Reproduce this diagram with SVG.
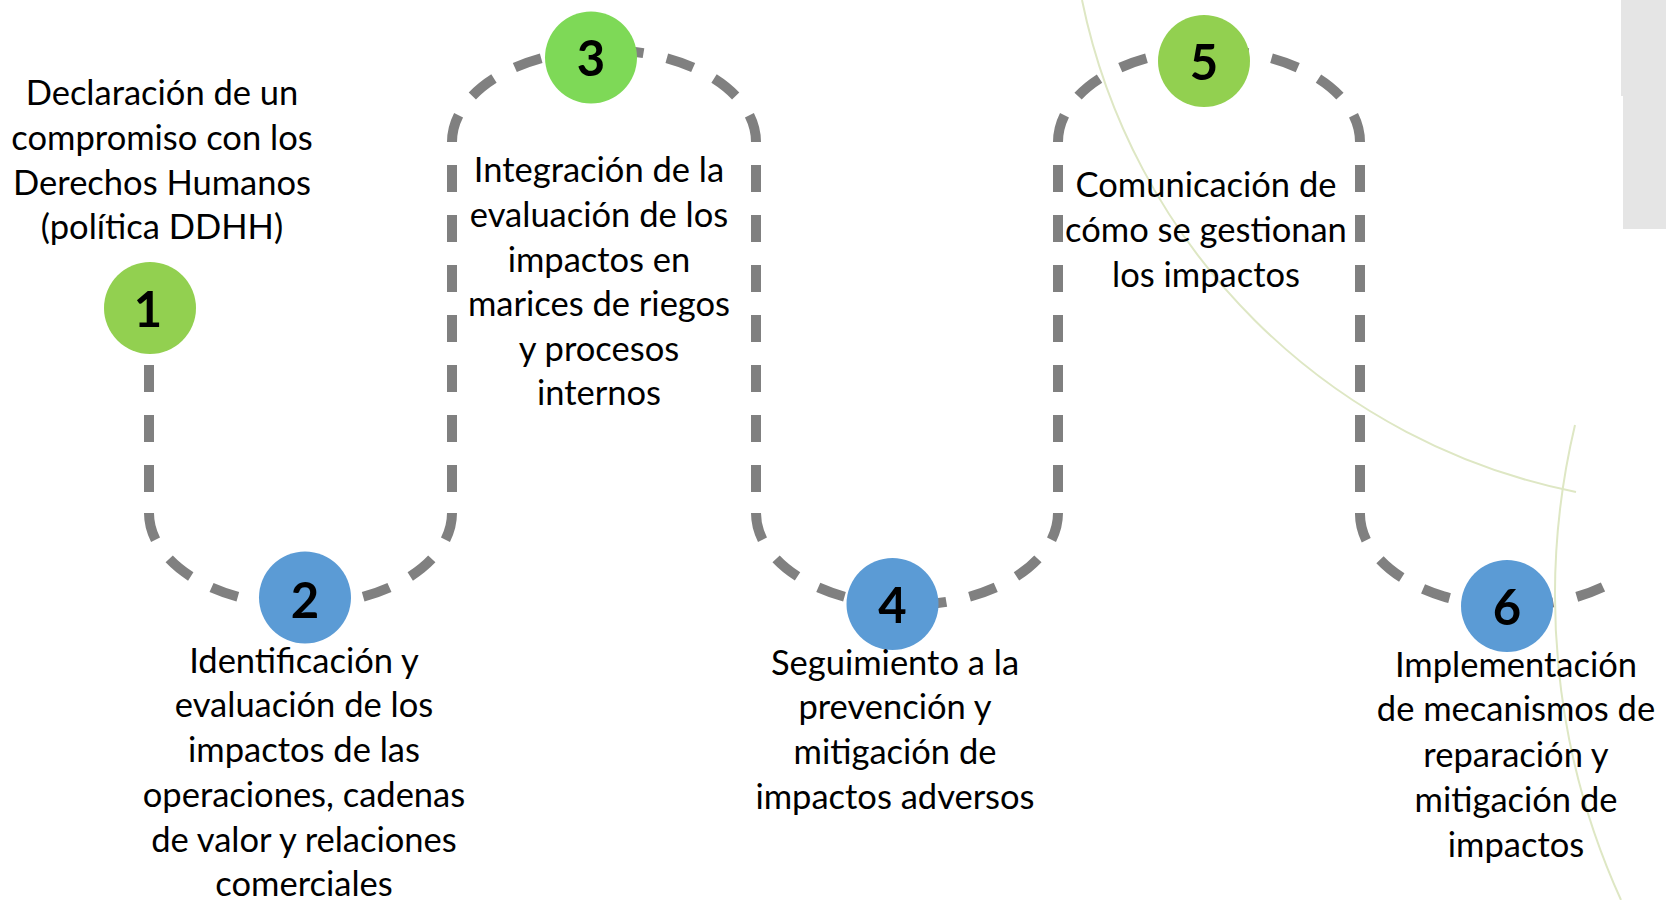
<svg xmlns="http://www.w3.org/2000/svg" width="1666" height="900" viewBox="0 0 1666 900">
<style>
.lbl{font-family:Lato,"Liberation Sans",sans-serif;font-size:34.5px;fill:#000;text-anchor:middle}
.num{font-family:Lato,"Liberation Sans",sans-serif;font-size:49px;font-weight:700;fill:#000;text-anchor:middle}
.dash{fill:none;stroke:#808080;stroke-width:10;stroke-dasharray:27 23}
.vert{stroke-dashoffset:27}
.deco{fill:none;stroke:#DEE7C4;stroke-width:2}
.g1{fill:#92D050}
.g3{fill:#7ED957}
.b{fill:#5B9BD5}
</style>
<rect x="0" y="0" width="1666" height="900" fill="#fff"/>
<g id="background">
<path class="deco" d="M1082 0 A631 631 0 0 0 1576 492"/>
<path class="deco" d="M1575 425 A736 736 0 0 0 1621 900"/>
<path d="M1621 0 H1666 V229 H1623 V96 H1621 Z" fill="#E5E5E5"/>
</g>
<g id="connectors">
<path class="dash" d="M149 365 L149 513"/>
<path class="dash" d="M149 513 A151.5 92 0 0 0 452 513" pathLength="377"/>
<path class="dash vert" d="M452 142 L452 513"/>
<path class="dash" d="M452 142 A152 92 0 0 1 756 142" pathLength="377"/>
<path class="dash vert" d="M756 142 L756 513"/>
<path class="dash" d="M756 513 A151 92 0 0 0 1058 513" pathLength="377"/>
<path class="dash vert" d="M1058 142 L1058 513"/>
<path class="dash" d="M1058 142 A151 92 0 0 1 1360 142" pathLength="377"/>
<path class="dash vert" d="M1360 142 L1360 513"/>
<path class="dash" d="M1360 513 A151 92 0 0 0 1603 587" pathLength="277"/>
</g>
<g id="node1">
<circle class="g1" cx="150" cy="308" r="46"/>
<text class="num" x="148" y="327">1</text>
<text class="lbl" x="162" y="105">Declaración de un</text>
<text class="lbl" x="162" y="150">compromiso con los</text>
<text class="lbl" x="162" y="195">Derechos Humanos</text>
<text class="lbl" x="162" y="239">(política DDHH)</text>
</g>
<g id="node2">
<circle class="b" cx="305" cy="597.5" r="46"/>
<text class="num" x="305" y="618">2</text>
<text class="lbl" x="304" y="673">Identificación y</text>
<text class="lbl" x="304" y="717">evaluación de los</text>
<text class="lbl" x="304" y="762">impactos de las</text>
<text class="lbl" x="304" y="807">operaciones, cadenas</text>
<text class="lbl" x="304" y="852">de valor y relaciones</text>
<text class="lbl" x="304" y="896">comerciales</text>
</g>
<g id="node3">
<circle class="g3" cx="591" cy="57.5" r="46"/>
<text class="num" x="591" y="76">3</text>
<text class="lbl" x="599" y="182">Integración de la</text>
<text class="lbl" x="599" y="227">evaluación de los</text>
<text class="lbl" x="599" y="272">impactos en</text>
<text class="lbl" x="599" y="316">marices de riegos</text>
<text class="lbl" x="599" y="361">y procesos</text>
<text class="lbl" x="599" y="405">internos</text>
</g>
<g id="node4">
<circle class="b" cx="892.5" cy="604" r="46"/>
<text class="num" x="892.5" y="623" font-weight="400">4</text>
<text class="lbl" x="895" y="675">Seguimiento a la</text>
<text class="lbl" x="895" y="719">prevención y</text>
<text class="lbl" x="895" y="764">mitigación de</text>
<text class="lbl" x="895" y="809">impactos adversos</text>
</g>
<g id="node5">
<circle class="g1" cx="1204" cy="61" r="46"/>
<text class="num" x="1204" y="80">5</text>
<text class="lbl" x="1206" y="197">Comunicación de</text>
<text class="lbl" x="1206" y="242">cómo se gestionan</text>
<text class="lbl" x="1206" y="287">los impactos</text>
</g>
<g id="node6">
<circle class="b" cx="1507" cy="606" r="46"/>
<text class="num" x="1507" y="625">6</text>
<text class="lbl" x="1516" y="677">Implementación</text>
<text class="lbl" x="1516" y="721">de mecanismos de</text>
<text class="lbl" x="1516" y="767">reparación y</text>
<text class="lbl" x="1516" y="812">mitigación de</text>
<text class="lbl" x="1516" y="857">impactos</text>
</g>
</svg>
